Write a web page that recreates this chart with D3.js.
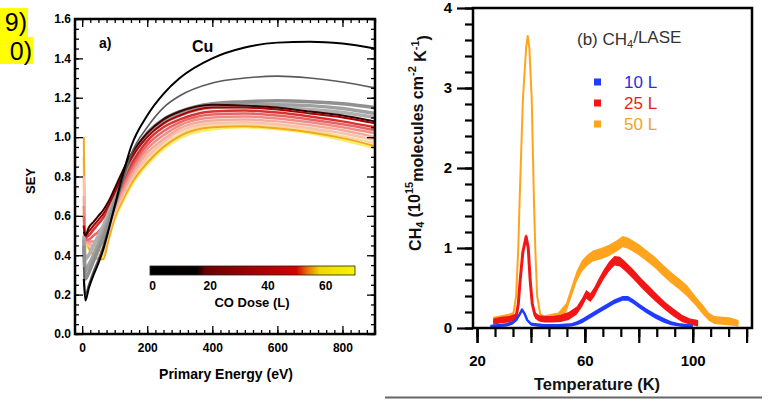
<!DOCTYPE html>
<html><head><meta charset="utf-8">
<script src="https://cdn.jsdelivr.net/npm/d3@7"></script>
<style>
html,body{margin:0;padding:0;background:#fff;}
svg{display:block;}
text{font-family:"Liberation Sans",Arial,Helvetica,sans-serif;}
</style></head><body>
<svg id="c" width="769" height="404"></svg>
<script>
// ================= Panel (a) data: SEY vs primary energy =================
const energies = [5,10,20,35,50,65,80,100,125,150,200,250,300,400,500,600,700,800,900];
const seyCu     = [0.28,0.17,0.23,0.30,0.36,0.43,0.52,0.65,0.81,0.95,1.11,1.22,1.30,1.40,1.455,1.48,1.485,1.475,1.45];
const seyDose2  = [0.34,0.20,0.25,0.32,0.38,0.45,0.53,0.64,0.78,0.91,1.05,1.15,1.21,1.275,1.30,1.31,1.30,1.28,1.25];
const seyDose5  = [0.45,0.28,0.31,0.37,0.43,0.49,0.56,0.66,0.79,0.89,1.02,1.09,1.13,1.17,1.18,1.185,1.18,1.17,1.15];
const seyDose8  = [0.48,0.32,0.35,0.40,0.46,0.52,0.58,0.68,0.80,0.89,1.01,1.08,1.12,1.16,1.165,1.165,1.16,1.145,1.12];
const seyDose12 = [0.50,0.38,0.40,0.45,0.50,0.55,0.61,0.70,0.81,0.90,1.01,1.07,1.11,1.15,1.155,1.15,1.14,1.125,1.10];
const seyDose20 = [0.52,0.50,0.54,0.57,0.60,0.63,0.67,0.74,0.83,0.91,1.02,1.09,1.13,1.165,1.16,1.15,1.13,1.11,1.08];
const seyDose25 = [0.55,0.50,0.52,0.55,0.58,0.61,0.65,0.72,0.81,0.89,1.00,1.07,1.11,1.15,1.15,1.14,1.12,1.10,1.07];
const seyDose30 = [0.55,0.49,0.50,0.53,0.56,0.59,0.63,0.69,0.78,0.86,0.98,1.05,1.09,1.13,1.135,1.125,1.105,1.08,1.05];
const seyDose35 = [0.60,0.48,0.48,0.50,0.52,0.55,0.60,0.67,0.76,0.84,0.96,1.03,1.075,1.115,1.12,1.11,1.09,1.065,1.035];
const seyDose40 = [0.65,0.48,0.47,0.47,0.48,0.51,0.57,0.65,0.74,0.82,0.94,1.01,1.06,1.10,1.105,1.095,1.075,1.05,1.02];
const seyDose45 = [0.70,0.47,0.46,0.45,0.45,0.47,0.54,0.63,0.72,0.80,0.92,0.99,1.045,1.085,1.09,1.08,1.06,1.035,1.00];
const seyDose50 = [0.80,0.47,0.45,0.43,0.42,0.43,0.51,0.61,0.70,0.78,0.90,0.975,1.03,1.07,1.075,1.065,1.045,1.02,0.985];
const seyDose55 = [0.90,0.47,0.44,0.41,0.40,0.40,0.49,0.60,0.69,0.77,0.885,0.96,1.015,1.06,1.065,1.055,1.035,1.005,0.97];
const seyDose60 = [1.00,0.50,0.44,0.40,0.38,0.38,0.47,0.59,0.68,0.76,0.87,0.95,1.005,1.05,1.055,1.045,1.025,0.995,0.955];
const seyDose70 = [0.62,0.46,0.43,0.40,0.385,0.39,0.48,0.58,0.67,0.75,0.86,0.94,0.995,1.04,1.05,1.04,1.02,0.985,0.945];

const seyTicks = [0,0.2,0.4,0.6,0.8,1.0,1.2,1.4,1.6];
const energyTicks = [0,200,400,600,800];
const doseTicks = [0,20,40,60];
const doseStops = [0,16,19,50,54,58,70];
const doseStopColors = ["#000000","#060000","#6a0000","#d80000","#e87800","#f0d800","#f6f400"];

// ================= Panel (b) data: CH4 TPD =================
const tBlue = [25,28,31,33,34.5,35.8,36.7,37.6,38.6,40,42,45,50,55,57,59,61,63,65,68,71,74,76,78,80,83,86,89,92,95,98,100];
const vBlue = [0.02,0.03,0.04,0.06,0.10,0.17,0.23,0.18,0.10,0.05,0.04,0.03,0.03,0.04,0.06,0.09,0.13,0.17,0.21,0.27,0.33,0.37,0.37,0.33,0.28,0.21,0.15,0.10,0.06,0.04,0.03,0.02];
const nBlue = [0.02,0.02,0.02,0.02,0.015,0.015,0.015,0.015,0.015,0.02,0.02,0.02,0.02,0.02,0.025,0.03,0.03,0.03,0.03,0.03,0.03,0.03,0.03,0.03,0.03,0.03,0.03,0.03,0.025,0.02,0.02,0.02];

const tRed = [26,29,32,34.5,35.3,36,37,38.2,39,39.7,40.5,41.5,43,45,48,51,54,57,59,60.5,62,63.5,65,67,69,71,73,75,78,81,84,87,90,93,96,99,102];
const vRed = [0.08,0.10,0.11,0.14,0.30,0.60,0.95,1.14,1.00,0.60,0.30,0.16,0.12,0.11,0.11,0.12,0.15,0.22,0.32,0.42,0.38,0.45,0.55,0.67,0.77,0.84,0.83,0.77,0.67,0.56,0.46,0.36,0.27,0.19,0.12,0.08,0.06];
const nRed = [0.04,0.04,0.04,0.04,0.04,0.04,0.04,0.04,0.04,0.04,0.04,0.04,0.04,0.04,0.04,0.045,0.05,0.05,0.055,0.055,0.055,0.06,0.06,0.06,0.06,0.06,0.06,0.06,0.06,0.06,0.06,0.055,0.05,0.05,0.045,0.04,0.04];

const tOrange = [26,29,32,33.5,34.5,35.3,35.8,37,38.2,38.8,39.4,40.3,41.1,41.6,42.3,43.5,45,48,50,53,55,57,59,61,63,66,69,72,74,76,78,80,83,86,89,92,95,98,101,104,106,108,111,114,117];
const vOrange = [0.10,0.12,0.14,0.18,0.40,1.00,1.60,2.85,3.50,3.65,3.50,2.85,1.60,1.00,0.40,0.16,0.12,0.13,0.14,0.25,0.45,0.65,0.78,0.85,0.90,0.93,0.97,1.03,1.08,1.06,1.02,0.98,0.90,0.82,0.72,0.63,0.55,0.46,0.34,0.22,0.14,0.10,0.09,0.08,0.06];
const nOrange = [0.04,0.04,0.04,0.02,0,0,0,0,0,0,0,0,0,0,0,0.02,0.04,0.05,0.05,0.06,0.07,0.07,0.07,0.07,0.07,0.07,0.07,0.07,0.07,0.07,0.07,0.07,0.07,0.07,0.07,0.07,0.07,0.07,0.06,0.06,0.05,0.05,0.05,0.05,0.04];

const seriesNames = ["10 L","25 L","50 L"];
const tempTicks = [20,60,100];
const ch4Ticks = [0,1,2,3,4];

// ================= Drawing =================
const svg = d3.select("#c");
const FONT = '"Liberation Sans",Arial,Helvetica,sans-serif';

// highlighted fragments at left edge
svg.append("rect").attr("x",0).attr("y",8).attr("width",28).attr("height",29).attr("fill","#ffff00");
svg.append("rect").attr("x",0).attr("y",37).attr("width",33).attr("height",27).attr("fill","#ffff00");
svg.append("text").attr("x",27).attr("y",31).attr("text-anchor","end").attr("font-size",25).attr("fill","#000").text("9)");
svg.append("text").attr("x",32).attr("y",60).attr("text-anchor","end").attr("font-size",25).attr("fill","#000").text("0)");

// ---- Panel a ----
const gA = svg.append("g");
const xA = d3.scaleLinear().domain([-22,900]).range([75,375]);
const yA = d3.scaleLinear().domain([0,1.6]).range([334,19]);

const curvesA = [
  {v:seyDose70,c:"#f6ef6a",w:2.5},
  {v:seyDose55,c:"#f9d9a0",w:2.5},
  {v:seyDose60,c:"#f2a81c",w:2},
  {v:seyDose50,c:"#f7c3ab",w:2.5},
  {v:seyDose45,c:"#f4aa9c",w:2.5},
  {v:seyDose40,c:"#f08c84",w:2.5},
  {v:seyDose35,c:"#e86464",w:2.5},
  {v:seyDose30,c:"#d83232",w:2.5},
  {v:seyDose12,c:"#b0b0b0",w:3.5},
  {v:seyDose8, c:"#a0a0a0",w:3.5},
  {v:seyDose5, c:"#909090",w:3.5},
  {v:seyDose25,c:"#a80000",w:2},
  {v:seyDose20,c:"#3a0000",w:2},
  {v:seyDose2, c:"#5a5a5a",w:1.6},
  {v:seyCu,    c:"#000000",w:2}
];
const lineA = d3.line().x((d,i)=>xA(energies[i])).y(d=>yA(d)).curve(d3.curveMonotoneX);
curvesA.forEach(c=>{
  gA.append("path").attr("d",lineA(c.v)).attr("fill","none").attr("stroke",c.c).attr("stroke-width",c.w).attr("stroke-linejoin","round");
});

function styleAxis(g,size,bold){
  g.select(".domain").remove();
  g.selectAll("line").attr("stroke","#000").attr("stroke-width",1.3);
  g.selectAll("text").attr("font-family",FONT).attr("font-size",size).attr("font-weight",bold?"bold":"normal").attr("fill","#000");
}
const seyMinor = d3.range(0,1.6001,0.05);
const eMinor = d3.range(0,901,25);
// left
gA.append("g").attr("transform","translate(75,0)").call(d3.axisLeft(yA).tickValues(seyMinor).tickSize(-4).tickFormat("")).call(g=>styleAxis(g,12,true));
gA.append("g").attr("transform","translate(75,0)").call(d3.axisLeft(yA).tickValues(seyTicks).tickSize(-8).tickPadding(4).tickFormat(d3.format(".1f"))).call(g=>styleAxis(g,12,true));
// right
gA.append("g").attr("transform","translate(375,0)").call(d3.axisRight(yA).tickValues(seyMinor).tickSize(-4).tickFormat("")).call(g=>styleAxis(g,12,true));
gA.append("g").attr("transform","translate(375,0)").call(d3.axisRight(yA).tickValues(seyTicks).tickSize(-8).tickFormat("")).call(g=>styleAxis(g,12,true));
// bottom
gA.append("g").attr("transform","translate(0,334)").call(d3.axisBottom(xA).tickValues(eMinor).tickSize(-4).tickFormat("")).call(g=>styleAxis(g,12,true));
gA.append("g").attr("transform","translate(0,334)").call(d3.axisBottom(xA).tickValues(energyTicks).tickSize(-8).tickPadding(9).tickFormat(d3.format("d"))).call(g=>styleAxis(g,12,true));
// top
gA.append("g").attr("transform","translate(0,19)").call(d3.axisTop(xA).tickValues(eMinor).tickSize(-4).tickFormat("")).call(g=>styleAxis(g,12,true));
gA.append("g").attr("transform","translate(0,19)").call(d3.axisTop(xA).tickValues(energyTicks).tickSize(-8).tickFormat("")).call(g=>styleAxis(g,12,true));
// frame
gA.append("rect").attr("x",75).attr("y",19).attr("width",300).attr("height",315).attr("fill","none").attr("stroke","#000").attr("stroke-width",2.5);

gA.append("text").attr("x",99).attr("y",48).attr("font-size",14).attr("font-weight","bold").text("a)");
gA.append("text").attr("x",192).attr("y",52).attr("font-size",16).attr("font-weight","bold").text("Cu");
gA.append("text").attr("x",226).attr("y",379).attr("text-anchor","middle").attr("font-size",14).attr("font-weight","bold").text("Primary Energy (eV)");
gA.append("text").attr("transform","translate(35,181) rotate(-90)").attr("text-anchor","middle").attr("font-size",13).attr("font-weight","bold").text("SEY");

// colorbar
const cbScale = d3.scaleLinear().domain([0,70]).range([152,354]);
const defs = svg.append("defs");
const grad = defs.append("linearGradient").attr("id","cbg").attr("x1","0%").attr("x2","100%").attr("y1","0%").attr("y2","0%");
doseStops.forEach((d,i)=>grad.append("stop").attr("offset",(d/70*100)+"%").attr("stop-color",doseStopColors[i]));
gA.append("rect").attr("x",cbScale(0)-2).attr("y",266).attr("width",cbScale(70)-cbScale(0)+3).attr("height",9).attr("fill","url(#cbg)").attr("stroke","#222").attr("stroke-width",0.8);
gA.append("g").attr("transform","translate(0,275)").call(d3.axisBottom(cbScale).tickValues(doseTicks).tickSize(0).tickPadding(6).tickFormat(d3.format("d"))).call(g=>styleAxis(g,12,true));
gA.append("text").attr("x",252).attr("y",307).attr("text-anchor","middle").attr("font-size",13).attr("font-weight","bold").text("CO Dose (L)");

// ---- Panel b ----
const gB = svg.append("g");
const xB = d3.scaleLinear().domain([18.5,122]).range([473,752]);
const yB = d3.scaleLinear().domain([0,4]).range([328,8]);

const seriesB = [
  {t:tOrange,v:vOrange,n:nOrange,c:"#ffa41c",w:2},
  {t:tRed,v:vRed,n:nRed,c:"#f31616",w:3},
  {t:tBlue,v:vBlue,n:nBlue,c:"#1f3cff",w:2.5}
];
seriesB.forEach(s=>{
  const pts = s.t.map((t,i)=>({t:t,v:s.v[i],n:s.n[i]}));
  const area = d3.area().x(d=>xB(d.t)).y0(d=>yB(d.v-d.n)).y1(d=>yB(d.v+d.n)).curve(d3.curveLinear);
  const line = d3.line().x(d=>xB(d.t)).y(d=>yB(d.v)).curve(d3.curveLinear);
  gB.append("path").attr("d",area(pts)).attr("fill",s.c).attr("stroke","none");
  gB.append("path").attr("d",line(pts)).attr("fill","none").attr("stroke",s.c).attr("stroke-width",s.w).attr("stroke-linejoin","round");
});

// frame
gB.append("rect").attr("x",473).attr("y",8).attr("width",279).attr("height",320).attr("fill","none").attr("stroke","#000").attr("stroke-width",2.5);
// y axis
gB.append("g").attr("transform","translate(473,0)").call(d3.axisLeft(yB).tickValues(d3.range(0,4.001,0.2)).tickSize(8).tickFormat("")).call(g=>styleAxis(g,15,true));
gB.append("g").attr("transform","translate(473,0)").call(d3.axisLeft(yB).tickValues(ch4Ticks).tickSize(16).tickPadding(5).tickFormat(d3.format("d"))).call(g=>styleAxis(g,15,true));
gB.selectAll("g.tick line").attr("stroke-width",2.2);
// x axis
gB.append("g").attr("transform","translate(0,328)").call(d3.axisBottom(xB).tickValues(d3.range(0,16).map(k=>20+k*20/3)).tickSize(9).tickFormat("")).call(g=>styleAxis(g,15,true));
gB.append("g").attr("transform","translate(0,328)").call(d3.axisBottom(xB).tickValues([20,40,60,80,100,120]).tickSize(15).tickFormat("")).call(g=>styleAxis(g,15,true));
gB.append("g").attr("transform","translate(0,328)").call(d3.axisBottom(xB).tickValues(tempTicks).tickSize(15).tickPadding(12).tickFormat(d3.format("d"))).call(g=>styleAxis(g,15,true));
gB.selectAll("g.tick line").attr("stroke-width",2.2);

gB.append("text").attr("x",597).attr("y",390).attr("text-anchor","middle").attr("font-size",16.5).attr("font-weight","bold").attr("fill","#111").text("Temperature (K)");

// y label with sub/superscripts
const yl = gB.append("text").attr("transform","translate(421,143) rotate(-90)").attr("text-anchor","middle").attr("font-size",16).attr("font-weight","bold").attr("fill","#111");
yl.append("tspan").text("CH");
yl.append("tspan").attr("font-size",11).attr("dy","0.3em").text("4");
yl.append("tspan").attr("dy","-0.3em").text(" (10");
yl.append("tspan").attr("font-size",11).attr("dy","-0.6em").text("15");
yl.append("tspan").attr("dy","0.6em").text("molecules cm");
yl.append("tspan").attr("font-size",11).attr("dy","-0.6em").text("-2");
yl.append("tspan").attr("dy","0.6em").text(" K");
yl.append("tspan").attr("font-size",11).attr("dy","-0.6em").text("-1");
yl.append("tspan").attr("dy","0.6em").text(")");

// title
const tt = gB.append("text").attr("x",577).attr("y",45).attr("font-size",17).attr("fill","#333");
tt.append("tspan").text("(b) CH");
tt.append("tspan").attr("font-size",11).attr("dy","0.3em").text("4");
tt.append("tspan").attr("dy","-0.3em").text("/LASE");

// legend
const legColors = ["#1f3cff","#f31616","#ffa41c"];
const legText = ["#2c2ce0","#e81e1e","#f2a21e"];
seriesNames.forEach((n,i)=>{
  const y = 82 + i*21;
  gB.append("rect").attr("x",594).attr("y",y-3.5).attr("width",7).attr("height",7).attr("fill",legColors[i]);
  gB.append("text").attr("x",624).attr("y",y+6).attr("font-size",17).attr("fill",legText[i]).text(n);
});

// bottom rule line
svg.append("line").attr("x1",385).attr("x2",762).attr("y1",397.5).attr("y2",397.5).attr("stroke","#666").attr("stroke-width",2);
</script>
</body></html>
